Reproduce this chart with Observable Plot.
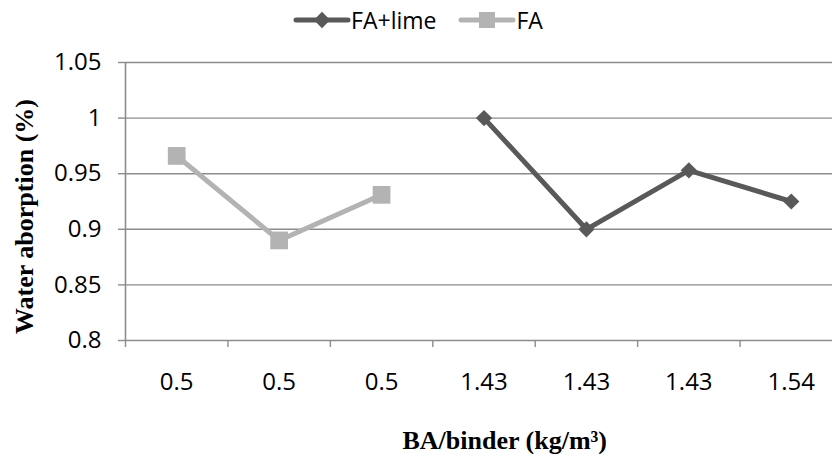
<!DOCTYPE html>
<html><head><meta charset="utf-8">
<script src="https://cdn.jsdelivr.net/npm/d3@7"></script>
<script src="https://cdn.jsdelivr.net/npm/@observablehq/plot@0.6"></script>
<style>
body{margin:0;background:#fff;overflow:hidden;width:832px;height:454px}
#legend{height:40px;display:flex;justify-content:center;align-items:center;font-family:"Open Sans",sans-serif;font-size:23px;color:#000;padding-left:4px;box-sizing:border-box}
#legend .item{display:flex;align-items:center;margin:0 11px}
#legend svg{margin-right:0}
</style>
</head><body>
<div id="legend"></div>
<div id="chart"></div>
<script>
const categories = ["0.5", "0.5", "0.5", "1.43", "1.43", "1.43", "1.54"];
const faLimeValues = [null, null, null, 1.0, 0.9, 0.953, 0.925];
const faValues = [0.966, 0.89, 0.931, null, null, null, null];
const seriesNames = ["FA+lime", "FA"];
const seriesColors = ["#595959", "#b3b3b3"];
const yTicks = [0.8, 0.85, 0.9, 0.95, 1, 1.05];

const rows = [];
[faLimeValues, faValues].forEach((vals, s) => {
  vals.forEach((v, i) => { if (v != null) rows.push({pos: i + 0.5, value: v, series: seriesNames[s]}); });
});

const tickFont = '"Open Sans", sans-serif';
const titleFont = '"Liberation Serif", "Times New Roman", serif';

const chart = Plot.plot({
  width: 832,
  height: 414,
  marginTop: 22,
  marginBottom: 114,
  marginLeft: 125,
  marginRight: -10,
  style: {fontFamily: tickFont, fontSize: "24px", color: "#000", background: "#fff", overflow: "hidden"},
  x: {domain: [0, categories.length], axis: null},
  y: {domain: [0.8, 1.05], axis: null},
  color: {domain: seriesNames, range: seriesColors},
  marks: [
    Plot.ruleY(yTicks.slice(1), {stroke: "#8c8c8c", strokeWidth: 1.4}),
    Plot.ruleY([0.8], {stroke: "#8c8c8c", strokeWidth: 1.6}),
    Plot.ruleX([0], {stroke: "#8c8c8c", strokeWidth: 1.6}),
    Plot.axisY({ticks: yTicks, tickSize: 7, tickPadding: 17, tickFormat: d => String(d), stroke: "#8c8c8c", strokeWidth: 1.4, strokeOpacity: 1, fontSize: 24, label: null}),
    Plot.axisX({ticks: d3.range(0, categories.length + 1), tickSize: 7, tickFormat: () => "", stroke: "#8c8c8c", strokeWidth: 1.4, strokeOpacity: 1, label: null}),
    Plot.axisX({ticks: categories.map((c, i) => i + 0.5), tickSize: 0, tickPadding: 32, tickFormat: d => categories[Math.floor(d)], fontSize: 24, label: null}),
    Plot.line(rows, {x: "pos", y: "value", z: "series", stroke: "series", strokeWidth: 5}),
    Plot.dot(rows.filter(d => d.series === "FA+lime"), {x: "pos", y: "value", fill: "series", symbol: () => "diamond2", r: 7.3, stroke: "none"}),
    Plot.dot(rows.filter(d => d.series === "FA"), {x: "pos", y: "value", fill: "series", symbol: () => "square", r: 10, stroke: "none"}),
    Plot.text(["Water aborption (%)"], {frameAnchor: "left", dx: -101, dy: 15, rotate: -90, textAnchor: "middle", lineAnchor: "middle", fontFamily: titleFont, fontWeight: "bold", fontSize: 26, fill: "#000"}),
    Plot.text(["BA/binder (kg/m³)"], {frameAnchor: "bottom-left", dx: 277, dy: 100, textAnchor: "start", lineAnchor: "middle", fontFamily: titleFont, fontWeight: "bold", fontSize: 26, fill: "#000"})
  ]
});
document.getElementById("chart").appendChild(chart);

// legend
const legend = d3.select("#legend");
seriesNames.forEach((name, s) => {
  const item = legend.append("div").attr("class", "item");
  const svg = item.append("svg").attr("width", 58).attr("height", 22);
  svg.append("line").attr("x1", 3).attr("x2", 55).attr("y1", 11).attr("y2", 11)
    .attr("stroke", seriesColors[s]).attr("stroke-width", 5).attr("stroke-linecap", "round");
  svg.append("path").attr("transform", "translate(29,11)")
    .attr("d", d3.symbol(s === 0 ? d3.symbolDiamond2 : d3.symbolSquare, s === 0 ? 170 : 256)())
    .attr("fill", seriesColors[s]);
  item.append("span").text(name);
});
</script>
</body></html>
